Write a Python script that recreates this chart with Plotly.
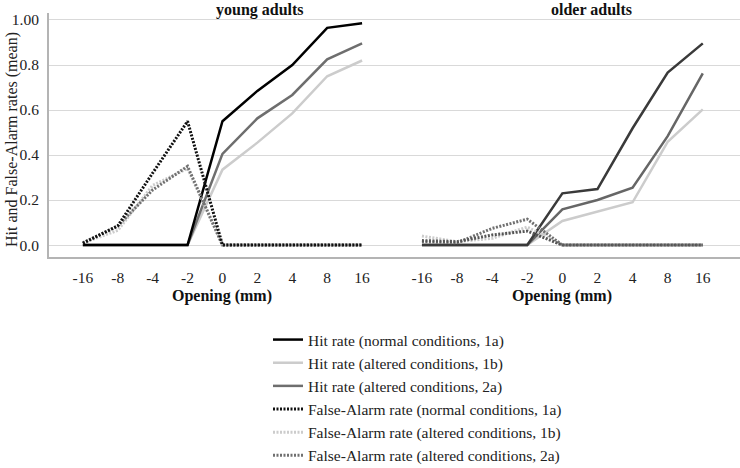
import plotly.graph_objects as go

openings = ["-16", "-8", "-4", "-2", "0", "2", "4", "8", "16"]
y_tick_vals = [0.0, 0.2, 0.4, 0.6, 0.8, 1.0]
y_tick_text = ["0.0", "0.2", "0.4", "0.6", "0.8", "1.00"]

# young adults
young_hit_1a = [0, 0, 0, 0, 0.55, 0.685, 0.80, 0.965, 0.985]
young_hit_1b = [0, 0, 0, 0, 0.335, 0.455, 0.585, 0.75, 0.82]
young_hit_2a = [0, 0, 0, 0, 0.405, 0.563, 0.667, 0.825, 0.896]
young_fa_1a = [0.008, 0.085, 0.32, 0.55, 0, 0, 0, 0, 0]
young_fa_1b = [0.01, 0.065, 0.265, 0.34, 0, 0, 0, 0, 0]
young_fa_2a = [0.01, 0.085, 0.245, 0.35, 0, 0, 0, 0, 0]

# older adults
older_hit_1a = [0, 0, 0, 0, 0.23, 0.249, 0.519, 0.766, 0.896]
older_hit_1b = [0, 0, 0, 0, 0.107, 0.148, 0.19, 0.459, 0.603]
older_hit_2a = [0, 0, 0, 0, 0.159, 0.2, 0.255, 0.484, 0.763]
older_fa_1a = [0.02, 0.015, 0.045, 0.062, 0, 0, 0, 0, 0]
older_fa_1b = [0.04, 0.015, 0.03, 0.08, 0, 0, 0, 0, 0]
older_fa_2a = [0.015, 0.01, 0.074, 0.115, 0, 0, 0, 0, 0]

names = [
    "Hit rate (normal conditions, 1a)",
    "Hit rate (altered conditions, 1b)",
    "Hit rate (altered conditions, 2a)",
    "False-Alarm rate (normal conditions, 1a)",
    "False-Alarm rate (altered conditions, 1b)",
    "False-Alarm rate (altered conditions, 2a)",
]

SERIF = "Liberation Serif"
xi = list(range(len(openings)))
DOT = "2px,1.5px"

styles_left = [
    dict(color="#000000", width=2.5, dash="solid"),
    dict(color="#cccccc", width=2.5, dash="solid"),
    dict(color="#6e6e6e", width=2.5, dash="solid"),
    dict(color="#111111", width=3, dash=DOT),
    dict(color="#cccccc", width=3, dash=DOT),
    dict(color="#707070", width=3, dash=DOT),
]
styles_right = [
    dict(color="#3a3a3a", width=2.5, dash="solid"),
    dict(color="#cccccc", width=2.5, dash="solid"),
    dict(color="#666666", width=2.5, dash="solid"),
    dict(color="#555555", width=3, dash=DOT),
    dict(color="#cccccc", width=3, dash=DOT),
    dict(color="#707070", width=3, dash=DOT),
]

young = [young_hit_1a, young_hit_1b, young_hit_2a, young_fa_1a, young_fa_1b, young_fa_2a]
older = [older_hit_1a, older_hit_1b, older_hit_2a, older_fa_1a, older_fa_1b, older_fa_2a]

fig = go.Figure()
order = [1, 2, 0, 4, 5, 3]
for i in order:
    fig.add_trace(go.Scatter(x=xi, y=young[i], mode="lines", name=names[i],
                             line=styles_left[i], xaxis="x", yaxis="y",
                             legendrank=i + 1, showlegend=True))
for i in order:
    fig.add_trace(go.Scatter(x=xi, y=older[i], mode="lines", name=names[i],
                             line=styles_right[i], xaxis="x2", yaxis="y",
                             showlegend=False))

L, T, PW, PH = 49, 13, 691, 244
split = 341 / 691

axis_common = dict(
    tickvals=xi, ticktext=openings, showgrid=False, zeroline=False,
    showline=True, linecolor="#b4b4b4", linewidth=2,
    tickfont=dict(family=SERIF, size=15.5, color="#222222"),
    ticks="", ticklabelstandoff=5, fixedrange=True, automargin=False,
)

fig.update_layout(
    width=740, height=468,
    margin=dict(l=L, r=0, t=T, b=468 - T - PH, autoexpand=False),
    paper_bgcolor="white", plot_bgcolor="white",
    showlegend=True,
    xaxis=dict(domain=[0, split], range=[-0.97, 8.8], **axis_common),
    xaxis2=dict(domain=[split, 1], range=[-0.91, 9.06], anchor="y", **axis_common),
    yaxis=dict(range=[-0.053, 1.031], tickvals=y_tick_vals, ticktext=y_tick_text,
               showgrid=True, gridcolor="#d9d9d9", gridwidth=1, zeroline=False,
               showline=True, linecolor="#b4b4b4", linewidth=2,
               tickfont=dict(family=SERIF, size=15.5, color="#222222"),
               ticks="", ticklabelstandoff=5, automargin=False),
    legend=dict(x=(268 - L) / PW, y=(T + PH - 323) / PH, xanchor="left", yanchor="top",
                font=dict(family=SERIF, size=15.5, color="#222222"),
                bgcolor="rgba(0,0,0,0)", traceorder="normal", itemwidth=30),
    font=dict(family=SERIF),
)

def px_x(p):
    return (p - L) / PW

def px_y(p):
    return (T + PH - p) / PH

annotations = [
    dict(text="<b>young adults</b>", x=px_x(260), y=px_y(-1), xref="paper", yref="paper",
         showarrow=False, font=dict(family=SERIF, size=16, color="#111111"),
         xanchor="center", yanchor="top"),
    dict(text="<b>older adults</b>", x=px_x(591), y=px_y(-1), xref="paper", yref="paper",
         showarrow=False, font=dict(family=SERIF, size=16, color="#111111"),
         xanchor="center", yanchor="top"),
    dict(text="<b>Opening (mm)</b>", x=px_x(222), y=px_y(296), xref="paper", yref="paper",
         showarrow=False, font=dict(family=SERIF, size=16, color="#111111"),
         xanchor="center", yanchor="middle"),
    dict(text="<b>Opening (mm)</b>", x=px_x(562), y=px_y(296), xref="paper", yref="paper",
         showarrow=False, font=dict(family=SERIF, size=16, color="#111111"),
         xanchor="center", yanchor="middle"),
    dict(text="Hit and False-Alarm rates (mean)", x=px_x(12), y=px_y(140),
         xref="paper", yref="paper", showarrow=False, textangle=-90,
         font=dict(family=SERIF, size=16, color="#222222"),
         xanchor="center", yanchor="middle"),
]
fig.update_layout(annotations=annotations)

fig.write_html("out.html", config={"displayModeBar": False},
               post_script="document.body.style.margin='0';")
